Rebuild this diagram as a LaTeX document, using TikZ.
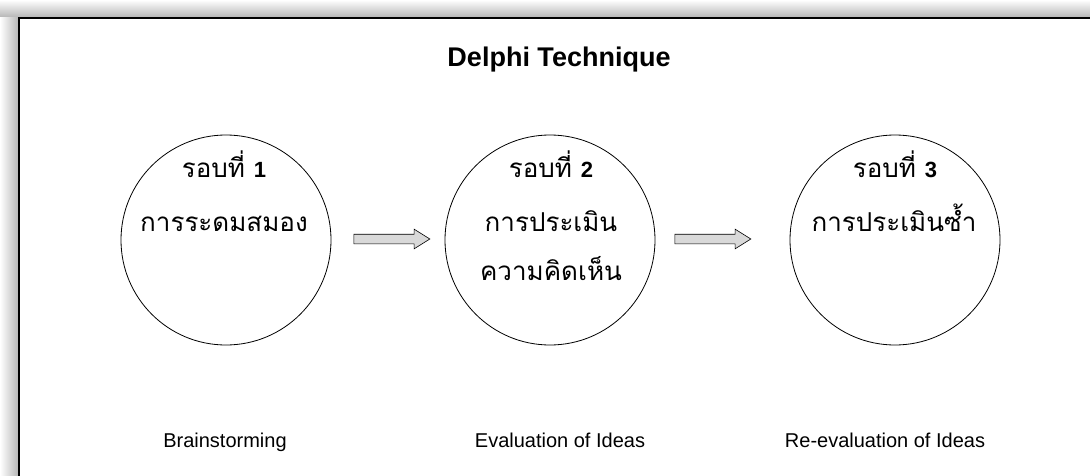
\documentclass[tikz,border=0pt]{standalone}
\usepackage{fontspec}
\setmainfont{Liberation Sans}
\newfontfamily\thaifont[Script=Thai]{Loma}
\usetikzlibrary{shapes.arrows}
\begin{document}
\begin{tikzpicture}[x=1pt,y=-1pt,
  round/.style={circle, draw=black, line width=0.8pt, minimum size=210pt, inner sep=0pt},
  blockarrow/.style={single arrow, draw=black, line width=0.6pt, fill=gray!30,
    minimum height=76pt, inner xsep=0pt, inner ysep=4.5pt, text height=0pt, text depth=0pt,
    single arrow head extend=5pt, single arrow tip angle=64},
  thaitxt/.style={font=\thaifont\fontsize{26}{30}\selectfont, inner sep=0pt, anchor=base},
  enlabel/.style={font=\fontsize{20}{22}\selectfont, inner sep=0pt, anchor=base},
  titletxt/.style={font=\bfseries\fontsize{27}{30}\selectfont, inner sep=0pt, anchor=base}]
\useasboundingbox (0,0) rectangle (1090,476);
\fill[white] (0,0) rectangle (1090,476);
% halftone border
\shade[top color=white, bottom color=gray!60] (0,0) rectangle (1090,18);
\shade[left color=white, right color=gray!60] (0,18) rectangle (19,476);
\draw[line width=1.5pt] (19,476) -- (19,18) -- (1090,18);
% title
\node[titletxt] (title) at (559,67) {Delphi Technique};
% circles
\node[round] (c1) at (226,240) {};
\node[round] (c2) at (550,240) {};
\node[round] (c3) at (895,240) {};
% texts in circles
\node[thaitxt] (r1) at (224,178) {รอบที่ \textbf{\fontspec{Liberation Sans}\fontsize{22}{24}\selectfont 1}};
\node[thaitxt] (t1) at (224,231) {การระดมสมอง};
\node[thaitxt] (r2) at (551,178) {รอบที่ \textbf{\fontspec{Liberation Sans}\fontsize{22}{24}\selectfont 2}};
\node[thaitxt] (t2a) at (551,231) {การประเมิน};
\node[thaitxt] (t2b) at (551,280) {ความคิดเห็น};
\node[thaitxt] (r3) at (895,178) {รอบที่ \textbf{\fontspec{Liberation Sans}\fontsize{22}{24}\selectfont 3}};
\node[thaitxt] (t3) at (894,231) {การประเมินซ้ำ};
% arrows
\node[blockarrow] (a1) at (388,239) {};
\node[blockarrow] (a2) at (709,239) {};
% labels
\node[enlabel] (l1) at (225,447) {Brainstorming};
\node[enlabel] (l2) at (560,447) {Evaluation of Ideas};
\node[enlabel] (l3) at (885,447) {Re-evaluation of Ideas};
\end{tikzpicture}
\end{document}
